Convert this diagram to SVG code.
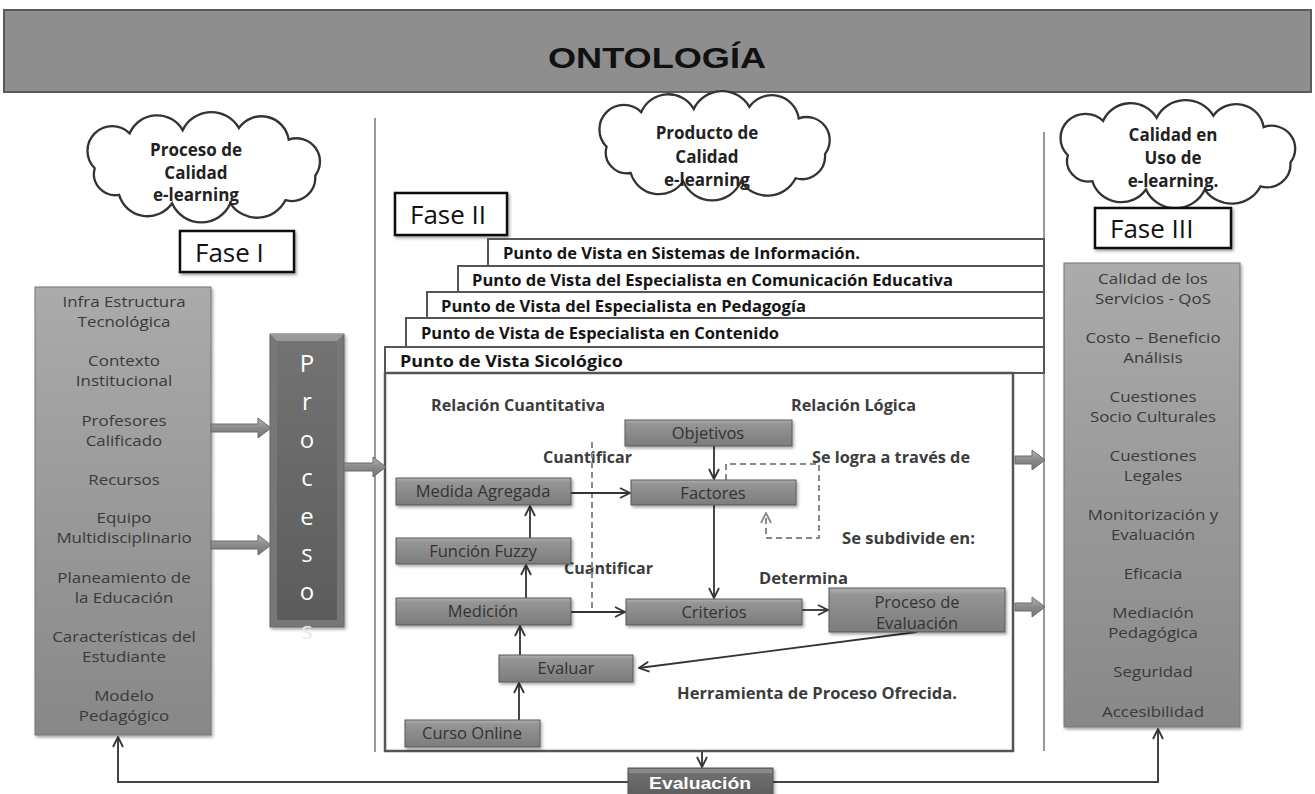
<svg xmlns="http://www.w3.org/2000/svg" width="1315" height="794" viewBox="0 0 1315 794">
<defs>
<style>
.lst{font-family:"Open Sans","Noto Sans",sans-serif;font-size:14px;fill:#3a3a3a;text-anchor:middle}
.nt{font-family:"Open Sans","Noto Sans",sans-serif;font-size:16.5px;fill:#333;text-anchor:middle}
.lbl{font-family:"Open Sans","Noto Sans",sans-serif;font-size:15.5px;font-weight:bold;fill:#3c3c3c}
.bar{font-family:"Open Sans","Noto Sans",sans-serif;font-size:16px;font-weight:bold;fill:#151515}
.cl{font-family:"Open Sans","Noto Sans",sans-serif;font-size:17px;font-weight:bold;fill:#222;text-anchor:middle}
.fase{font-family:"Open Sans","Noto Sans",sans-serif;font-size:26px;fill:#111}
.node{fill:url(#ng);stroke:#5a5a5a;stroke-width:1;filter:url(#sh)}
.faseb{fill:#fff;stroke:#111;stroke-width:2.5;filter:url(#sh)}
.barr{fill:#fff;stroke:#555;stroke-width:2}
.cloudp{fill:#fff;stroke:#333;stroke-width:2.2}
.ln{fill:none;stroke:#333;stroke-width:1.8}
.ln2{fill:none;stroke:#444;stroke-width:2}
.dash{fill:none;stroke:#888;stroke-width:2;stroke-dasharray:6 4}
.barrow{fill:url(#ag);stroke:#6a6a6a;stroke-width:1}
.div{stroke:#777;stroke-width:1.5}
</style>
<linearGradient id="ng" x1="0" y1="0" x2="0" y2="1">
<stop offset="0" stop-color="#b0b0b0"/><stop offset="0.15" stop-color="#959595"/><stop offset="1" stop-color="#7c7c7c"/>
</linearGradient>
<linearGradient id="bg" x1="0" y1="0" x2="0" y2="1">
<stop offset="0" stop-color="#ababab"/><stop offset="1" stop-color="#888"/>
</linearGradient>
<linearGradient id="dg" x1="0" y1="0" x2="0" y2="1">
<stop offset="0" stop-color="#737373"/><stop offset="1" stop-color="#5c5c5c"/>
</linearGradient>
<linearGradient id="ag" x1="0" y1="0" x2="0" y2="1">
<stop offset="0" stop-color="#b5b5b5"/><stop offset="0.5" stop-color="#8a8a8a"/><stop offset="1" stop-color="#777"/>
</linearGradient>
<filter id="sh" x="-10%" y="-10%" width="125%" height="130%">
<feDropShadow dx="1.5" dy="2" stdDeviation="1.5" flood-color="#000" flood-opacity="0.35"/>
</filter>
<marker id="ah" viewBox="0 0 12 12" refX="11" refY="6" markerWidth="12" markerHeight="12" markerUnits="userSpaceOnUse" orient="auto">
<path d="M1,1 L11,6 L1,11" fill="none" stroke="#333" stroke-width="1.8"/>
</marker>
<marker id="ahd" viewBox="0 0 12 12" refX="11" refY="6" markerWidth="12" markerHeight="12" markerUnits="userSpaceOnUse" orient="auto">
<path d="M1,1 L11,6 L1,11" fill="none" stroke="#888" stroke-width="1.8"/>
</marker>
<path id="cloud" d="M12,55 A20,20 0 0 1 45,22 A28,28 0 0 1 95,19 A30,30 0 0 1 148,17 A26,26 0 0 1 195,28 A22,22 0 0 1 220,62 A22,22 0 0 1 192,85 A30,30 0 0 1 140,88 A30,30 0 0 1 85,88 A28,28 0 0 1 35,80 A20,20 0 0 1 12,55 Z"/>
</defs>

<rect width="1315" height="794" fill="#fff"/>

<g id="title">
<rect x="4" y="10" width="1307" height="82" fill="#8e8e8e" stroke="#5a5a5a" stroke-width="2"/>
<text x="657" y="68" text-anchor="middle" font-family="'Liberation Sans',Arial,sans-serif" font-weight="bold" font-size="29" fill="#111" textLength="218" lengthAdjust="spacingAndGlyphs">ONTOLOGÍA</text>
</g>

<g id="dividers">
<line class="div" x1="375" y1="118" x2="375" y2="752"/>
<line class="div" x1="1044" y1="132" x2="1044" y2="751"/>
</g>

<g id="cloud1">
<use href="#cloud" class="cloudp" transform="translate(82,110) scale(1.06,1.06)"/>
<text class="cl" x="196" y="156">Proceso de</text>
<text class="cl" x="196" y="179">Calidad</text>
<text class="cl" x="196" y="201">e-learning</text>
</g>
<g id="cloud2">
<use href="#cloud" class="cloudp" transform="translate(594,89) scale(1.05,1.05)"/>
<text class="cl" x="707" y="139">Producto de</text>
<text class="cl" x="707" y="163">Calidad</text>
<text class="cl" x="707" y="186">e-learning</text>
</g>
<g id="cloud3">
<use href="#cloud" class="cloudp" transform="translate(1055,98) scale(1.07,1.04)"/>
<text class="cl" x="1173" y="141">Calidad en</text>
<text class="cl" x="1173" y="164">Uso de</text>
<text class="cl" x="1173" y="187">e-learning.</text>
</g>

<g id="fase1">
<rect class="faseb" x="180" y="231" width="114" height="41"/>
<text class="fase" x="195" y="262">Fase I</text>
</g>
<g id="fase2">
<rect class="faseb" x="395" y="193" width="112" height="42"/>
<text class="fase" x="410" y="224">Fase II</text>
</g>
<g id="fase3">
<rect class="faseb" x="1095" y="208" width="136" height="40"/>
<text class="fase" x="1110" y="238">Fase III</text>
</g>

<g id="fase1-list">
<rect x="35" y="287" width="176" height="448" fill="url(#bg)" stroke="#777" stroke-width="1" filter="url(#sh)"/>
<g transform="translate(124,0) scale(1.21,1)">
<text class="lst" x="0" y="307">Infra Estructura</text>
<text class="lst" x="0" y="327">Tecnológica</text>
<text class="lst" x="0" y="366">Contexto</text>
<text class="lst" x="0" y="386">Institucional</text>
<text class="lst" x="0" y="426">Profesores</text>
<text class="lst" x="0" y="446">Calificado</text>
<text class="lst" x="0" y="485">Recursos</text>
<text class="lst" x="0" y="523">Equipo</text>
<text class="lst" x="0" y="543">Multidisciplinario</text>
<text class="lst" x="0" y="583">Planeamiento de</text>
<text class="lst" x="0" y="603">la Educación</text>
<text class="lst" x="0" y="642">Características del</text>
<text class="lst" x="0" y="662">Estudiante</text>
<text class="lst" x="0" y="701">Modelo</text>
<text class="lst" x="0" y="721">Pedagógico</text>
</g>
</g>

<g id="procesos">
<rect x="270" y="334" width="74" height="293" fill="#777" stroke="#666" stroke-width="1" filter="url(#sh)"/>
<polygon points="270,334 344,334 337,341 277,341" fill="#9a9a9a"/>
<rect x="277" y="341" width="60" height="279" fill="url(#dg)"/>
<g font-family="'Open Sans','Noto Sans',sans-serif" font-size="24" fill="#fff" text-anchor="middle">
<text x="307" y="372">P</text>
<text x="307" y="410">r</text>
<text x="307" y="448">o</text>
<text x="307" y="486">c</text>
<text x="307" y="525">e</text>
<text x="307" y="562">s</text>
<text x="307" y="600">o</text>
<text x="307" y="639" fill="#e8e8e8">s</text>
</g>
</g>

<g id="fase3-list">
<rect x="1064" y="263" width="176" height="464" fill="url(#bg)" stroke="#777" stroke-width="1" filter="url(#sh)"/>
<g transform="translate(1153,0) scale(1.21,1)">
<text class="lst" x="0" y="284">Calidad de los</text>
<text class="lst" x="0" y="304">Servicios - QoS</text>
<text class="lst" x="0" y="343">Costo – Beneficio</text>
<text class="lst" x="0" y="363">Análisis</text>
<text class="lst" x="0" y="402">Cuestiones</text>
<text class="lst" x="0" y="422">Socio Culturales</text>
<text class="lst" x="0" y="461">Cuestiones</text>
<text class="lst" x="0" y="481">Legales</text>
<text class="lst" x="0" y="520">Monitorización y</text>
<text class="lst" x="0" y="540">Evaluación</text>
<text class="lst" x="0" y="579">Eficacia</text>
<text class="lst" x="0" y="618">Mediación</text>
<text class="lst" x="0" y="638">Pedagógica</text>
<text class="lst" x="0" y="677">Seguridad</text>
<text class="lst" x="0" y="717">Accesibilidad</text>
</g>
</g>

<g id="puntos-vista">
<rect class="barr" x="488" y="239" width="556" height="27"/>
<text class="bar" x="503" y="259" textLength="357" lengthAdjust="spacingAndGlyphs">Punto de Vista en Sistemas de Información.</text>
<rect class="barr" x="458" y="266" width="586" height="27"/>
<text class="bar" x="472" y="286" textLength="481" lengthAdjust="spacingAndGlyphs">Punto de Vista del Especialista en Comunicación Educativa</text>
<rect class="barr" x="427" y="292" width="617" height="26"/>
<text class="bar" x="441" y="312" textLength="365" lengthAdjust="spacingAndGlyphs">Punto de Vista del Especialista en Pedagogía</text>
<rect class="barr" x="406" y="318" width="638" height="29"/>
<text class="bar" x="421" y="339" textLength="358" lengthAdjust="spacingAndGlyphs">Punto de Vista de Especialista en Contenido</text>
<rect class="barr" x="385" y="347" width="659" height="26"/>
<text class="bar" x="400" y="367" textLength="223" lengthAdjust="spacingAndGlyphs">Punto de Vista Sicológico</text>
</g>

<g id="inner-frame">
<rect x="385" y="373" width="628" height="378" fill="#fff" stroke="#555" stroke-width="2.5"/>
</g>

<g id="labels">
<text class="lbl" x="431" y="411" textLength="174" lengthAdjust="spacingAndGlyphs">Relación Cuantitativa</text>
<text class="lbl" x="791" y="411" textLength="125" lengthAdjust="spacingAndGlyphs">Relación Lógica</text>
<text class="lbl" x="543" y="463" textLength="89" lengthAdjust="spacingAndGlyphs">Cuantificar</text>
<text class="lbl" x="564" y="574" textLength="89" lengthAdjust="spacingAndGlyphs">Cuantificar</text>
<text class="lbl" x="812" y="463" textLength="158" lengthAdjust="spacingAndGlyphs">Se logra a través de</text>
<text class="lbl" x="842" y="544" textLength="133" lengthAdjust="spacingAndGlyphs">Se subdivide en:</text>
<text class="lbl" x="759" y="584" textLength="89" lengthAdjust="spacingAndGlyphs">Determina</text>
<text class="lbl" x="677" y="699" textLength="280" lengthAdjust="spacingAndGlyphs">Herramienta de Proceso Ofrecida.</text>
</g>

<g id="connectors">
<line class="dash" x1="592" y1="442" x2="592" y2="610"/>
<polyline class="dash" points="726,480 726,464 819,464 819,538 766,538 766,513" marker-end="url(#ahd)"/>
<line class="ln" x1="714" y1="446" x2="714" y2="479" marker-end="url(#ah)"/>
<line class="ln" x1="714" y1="505" x2="714" y2="598" marker-end="url(#ah)"/>
<line class="ln" x1="571" y1="493" x2="630" y2="493" marker-end="url(#ah)"/>
<line class="ln" x1="571" y1="612" x2="625" y2="612" marker-end="url(#ah)"/>
<line class="ln" x1="802" y1="610" x2="828" y2="610" marker-end="url(#ah)"/>
<line class="ln" x1="917" y1="632" x2="639" y2="668" marker-end="url(#ah)"/>
<line class="ln" x1="530" y1="538" x2="530" y2="506" marker-end="url(#ah)"/>
<line class="ln" x1="526" y1="598" x2="526" y2="565" marker-end="url(#ah)"/>
<line class="ln" x1="520" y1="655" x2="520" y2="626" marker-end="url(#ah)"/>
<line class="ln" x1="519" y1="720" x2="519" y2="683" marker-end="url(#ah)"/>
<line class="ln2" x1="702" y1="751" x2="702" y2="767" marker-end="url(#ah)"/>
<polyline class="ln2" points="628,782 118,782 118,737" marker-end="url(#ah)"/>
<polyline class="ln2" points="773,782 1158,782 1158,729" marker-end="url(#ah)"/>
<polygon class="barrow" points="211,424 258,424 258,418 271,428 258,438 258,432 211,432"/>
<polygon class="barrow" points="211,541 258,541 258,535 271,545 258,555 258,549 211,549"/>
<polygon class="barrow" points="344,463 373,463 373,457 386,467 373,477 373,471 344,471"/>
<polygon class="barrow" points="1015,456 1032,456 1032,450 1045,460 1032,470 1032,464 1015,464"/>
<polygon class="barrow" points="1015,603 1032,603 1032,597 1045,607 1032,617 1032,611 1015,611"/>
</g>

<g id="objetivos"><rect class="node" x="625" y="420" width="167" height="26"/><text class="nt" x="708" y="439">Objetivos</text></g>
<g id="factores"><rect class="node" x="631" y="480" width="165" height="25"/><text class="nt" x="713" y="499">Factores</text></g>
<g id="criterios"><rect class="node" x="626" y="599" width="176" height="26"/><text class="nt" x="714" y="618">Criterios</text></g>
<g id="proceso-evaluacion"><rect class="node" x="829" y="588" width="176" height="44"/><text class="nt" x="917" y="608">Proceso de</text><text class="nt" x="917" y="629">Evaluación</text></g>
<g id="medida-agregada"><rect class="node" x="396" y="478" width="175" height="27"/><text class="nt" x="483" y="497">Medida Agregada</text></g>
<g id="funcion-fuzzy"><rect class="node" x="396" y="538" width="175" height="26"/><text class="nt" x="483" y="557">Función Fuzzy</text></g>
<g id="medicion"><rect class="node" x="396" y="598" width="175" height="27"/><text class="nt" x="483" y="617">Medición</text></g>
<g id="evaluar"><rect class="node" x="499" y="655" width="134" height="27"/><text class="nt" x="566" y="674">Evaluar</text></g>
<g id="curso-online"><rect class="node" x="405" y="720" width="135" height="27"/><text class="nt" x="472" y="739">Curso Online</text></g>

<g id="evaluacion">
<rect x="628" y="768" width="145" height="30" fill="url(#dg)" stroke="#555" stroke-width="1" filter="url(#sh)"/>
<rect x="629" y="769" width="143" height="4" fill="#8a8a8a"/>
<text x="700" y="789" text-anchor="middle" font-family="'Liberation Sans',Arial,sans-serif" font-weight="bold" font-size="17" fill="#fff" textLength="102" lengthAdjust="spacingAndGlyphs">Evaluación</text>
</g>
</svg>
